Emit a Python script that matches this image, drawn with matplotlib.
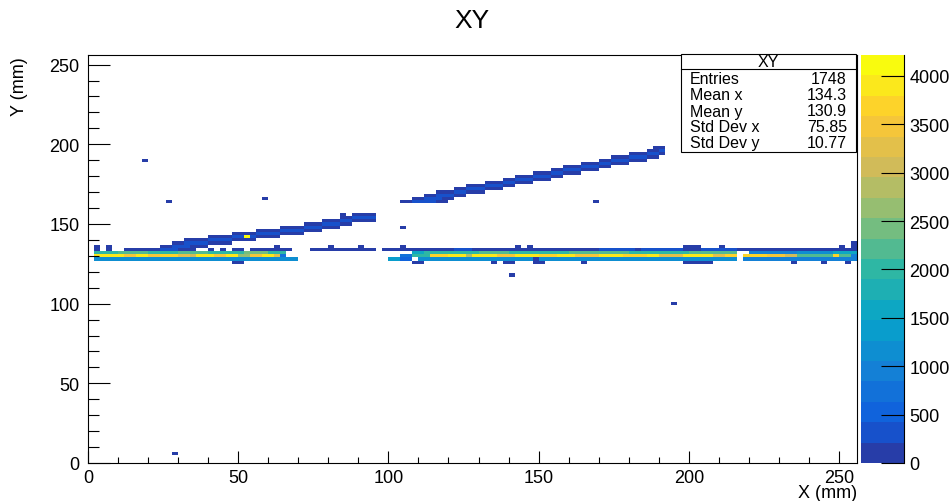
import numpy as np
import matplotlib
matplotlib.use("Agg")
import matplotlib.pyplot as plt
from matplotlib.colors import ListedColormap, BoundaryNorm
from matplotlib.patches import Rectangle
from matplotlib.lines import Line2D
from matplotlib.ticker import MultipleLocator

plt.rcParams['font.family'] = ['Liberation Sans', 'DejaVu Sans']

W, H = 953, 502

# binning of the 2D histogram (mm); y bins are centred on even values
x_edges = np.arange(0, 258, 2)
y_edges = np.arange(0, 258, 2) - 1
z_max = 4215

# runs of filled bins: (y row, x start, x end, content)
band_left = [
    (130, 2, 6, 3900), (130, 6, 12, 4000), (130, 12, 16, 3500), (130, 16, 20, 3800),
    (130, 20, 24, 3400), (130, 24, 30, 3700), (130, 30, 34, 3300), (130, 34, 36, 3000),
    (130, 36, 42, 3800), (130, 42, 46, 3500), (130, 46, 50, 3900), (130, 50, 54, 2700),
    (130, 54, 58, 3500), (130, 58, 62, 3800), (130, 62, 64, 3300), (130, 64, 66, 700),
    (132, 2, 10, 2100), (132, 10, 20, 2300), (132, 20, 30, 2000), (132, 30, 40, 2200),
    (132, 40, 52, 2100), (132, 52, 60, 2400), (132, 60, 66, 2000),
    (128, 2, 40, 1100), (128, 40, 50, 1200), (128, 50, 70, 1250),
    (126, 48, 52, 150),
]

band_right = [
    (130, 104, 108, 700), (130, 108, 114, 1900), (130, 114, 120, 3700), (130, 120, 126, 3900),
    (130, 126, 128, 2900), (130, 128, 136, 3800), (130, 136, 142, 3500), (130, 142, 150, 3900),
    (130, 150, 156, 3600), (130, 156, 162, 3900), (130, 162, 170, 3500), (130, 170, 178, 3800),
    (130, 178, 186, 3600), (130, 186, 190, 3900), (130, 190, 198, 3200), (130, 198, 208, 3800),
    (130, 208, 212, 3200), (130, 212, 216, 3700), (130, 218, 226, 3700), (130, 226, 232, 3400),
    (130, 232, 236, 3000), (130, 236, 248, 2300), (130, 248, 250, 3700), (130, 250, 254, 2300),
    (130, 254, 256, 900),
    (132, 108, 112, 1500), (132, 112, 130, 2100), (132, 130, 140, 2300), (132, 140, 160, 2000),
    (132, 160, 180, 2200), (132, 180, 200, 2000), (132, 200, 216, 2200), (132, 220, 236, 900),
    (132, 236, 248, 1200), (132, 248, 256, 1600),
    (128, 100, 104, 1300), (128, 104, 108, 600), (128, 110, 148, 1100), (128, 148, 150, 150),
    (128, 150, 216, 1100), (128, 218, 256, 1000),
    (126, 108, 112, 150), (126, 134, 136, 150), (126, 138, 142, 150), (126, 148, 152, 150),
    (126, 164, 166, 150), (126, 198, 208, 150), (126, 234, 236, 150), (126, 244, 246, 150),
    (126, 252, 254, 150),
]

dark_line = [
    (134, 2, 4, 150), (136, 2, 4, 150), (134, 6, 8, 150), (136, 6, 8, 150),
    (134, 12, 24, 120), (134, 24, 30, 420), (134, 30, 36, 150), (134, 40, 42, 120),
    (134, 44, 46, 120), (134, 48, 52, 150), (134, 54, 68, 130), (134, 74, 96, 120),
    (136, 90, 92, 120),
    (134, 98, 122, 130), (134, 122, 126, 300), (134, 126, 128, 400), (134, 128, 170, 140),
    (134, 170, 182, 380), (134, 182, 184, 150), (134, 184, 198, 380), (134, 198, 204, 150),
    (134, 204, 216, 380), (134, 216, 256, 200),
    (136, 104, 106, 150), (136, 142, 144, 150), (136, 146, 148, 150), (136, 198, 204, 150),
    (136, 210, 212, 150), (136, 250, 252, 150), (136, 254, 256, 150), (138, 254, 256, 150),
]

track_1 = [
    (136, 24, 28, 120), (136, 28, 34, 350), (136, 34, 40, 120),
    (138, 28, 32, 120), (138, 32, 40, 350), (138, 40, 48, 120),
    (140, 32, 40, 120), (140, 40, 48, 350), (140, 48, 56, 120),
    (142, 40, 48, 120), (142, 48, 52, 350), (142, 52, 54, 4200), (142, 54, 56, 350), (142, 56, 64, 120),
    (144, 48, 56, 120), (144, 56, 64, 350), (144, 64, 72, 120),
    (146, 56, 64, 120), (146, 64, 72, 350), (146, 72, 78, 120),
    (148, 64, 72, 120), (148, 72, 78, 350), (148, 78, 84, 120),
    (150, 72, 78, 120), (150, 78, 84, 350), (150, 84, 88, 120),
    (152, 78, 84, 120), (152, 84, 88, 350), (152, 88, 96, 120),
    (154, 84, 88, 120), (154, 88, 96, 350),
    (156, 84, 86, 120), (156, 88, 96, 120),
]

track_2 = [
    (164, 104, 108, 120), (164, 108, 116, 350), (164, 116, 120, 120),
    (166, 108, 112, 120), (166, 112, 118, 350), (166, 118, 122, 120),
    (168, 112, 116, 120), (168, 116, 122, 350), (168, 122, 126, 120),
    (170, 116, 122, 120), (170, 122, 126, 350), (170, 126, 132, 120),
    (172, 122, 126, 120), (172, 126, 132, 350), (172, 132, 138, 120),
    (174, 126, 132, 120), (174, 132, 138, 350), (174, 138, 142, 120),
    (176, 132, 138, 120), (176, 138, 142, 350), (176, 142, 148, 120),
    (178, 138, 142, 120), (178, 142, 148, 350), (178, 148, 154, 120),
    (180, 142, 148, 120), (180, 148, 154, 350), (180, 154, 158, 120),
    (182, 148, 154, 120), (182, 154, 158, 350), (182, 158, 164, 120),
    (184, 154, 158, 120), (184, 158, 164, 350), (184, 164, 170, 120),
    (186, 158, 164, 120), (186, 164, 170, 350), (186, 170, 174, 120),
    (188, 164, 170, 120), (188, 170, 174, 350), (188, 174, 180, 120),
    (190, 170, 174, 120), (190, 174, 180, 350), (190, 180, 186, 120),
    (192, 174, 180, 120), (192, 180, 186, 350), (192, 186, 190, 120),
    (194, 180, 186, 120), (194, 186, 190, 350), (194, 190, 192, 120),
    (196, 186, 190, 120), (196, 190, 192, 350),
    (198, 188, 192, 120),
]

# single bins: (x, y, content)
isolated = [
    (18, 190, 150), (26, 164, 150), (58, 166, 150), (104, 148, 150), (168, 164, 150),
    (194, 100, 150), (140, 118, 150), (28, 6, 150), (62, 136, 150), (80, 136, 150),
]

stats_labels = ["Entries", "Mean x", "Mean y", "Std Dev x", "Std Dev y"]
stats_values = ["1748", "134.3", "130.9", "75.85", "10.77"]
z_ticks = np.arange(0, 4001, 500)

# fill the histogram
counts = np.zeros((len(y_edges) - 1, len(x_edges) - 1))
for row, x0, x1, val in band_left + band_right + dark_line + track_1 + track_2:
    counts[row // 2, x0 // 2:x1 // 2] = val
for x, y, val in isolated:
    counts[y // 2, x // 2] = val
masked = np.ma.masked_equal(counts, 0)

# ROOT kBird palette, 20 contour levels
stops = [0.0, 0.125, 0.25, 0.375, 0.5, 0.625, 0.75, 0.875, 1.0]
red = [0.2082, 0.0592, 0.0780, 0.0232, 0.1802, 0.5301, 0.8186, 0.9956, 0.9764]
green = [0.1664, 0.3599, 0.5041, 0.6419, 0.7178, 0.7492, 0.7328, 0.7862, 0.9832]
blue = [0.5293, 0.8684, 0.8385, 0.7914, 0.6425, 0.4662, 0.3499, 0.1968, 0.0539]
ncont = 20
pos = np.array([int((i + 0.99) * 255 / ncont) for i in range(ncont)]) / 254
cols = np.column_stack([np.interp(pos, stops, red), np.interp(pos, stops, green),
                        np.interp(pos, stops, blue)])
cmap = ListedColormap(cols)
norm = BoundaryNorm(np.linspace(0, z_max, ncont + 1), ncont)


def fx(px):
    return px / W


def fy(py):
    return 1 - py / H


fig = plt.figure(figsize=(W / 100, H / 100), dpi=100)
ax = fig.add_axes([fx(88), fy(464), fx(857) - fx(88), fy(56) - fy(464)])
mesh = ax.pcolormesh(x_edges, y_edges, masked, cmap=cmap, norm=norm)
ax.set_xlim(0, 256)
ax.set_ylim(0, 256)

ax.xaxis.set_major_locator(MultipleLocator(50))
ax.xaxis.set_minor_locator(MultipleLocator(10))
ax.yaxis.set_major_locator(MultipleLocator(50))
ax.yaxis.set_minor_locator(MultipleLocator(10))
ax.tick_params(axis='x', which='major', direction='in', length=8.6, width=0.8,
               labelsize=13, pad=4)
ax.tick_params(axis='x', which='minor', direction='in', length=4.5, width=0.8)
ax.tick_params(axis='y', which='major', direction='in', length=16, width=0.8,
               labelsize=13, pad=6)
ax.tick_params(axis='y', which='minor', direction='in', length=8, width=0.8)
for s in ax.spines.values():
    s.set_linewidth(0.8)

# colour palette
cax = fig.add_axes([fx(861), fy(464), fx(904) - fx(861), fy(56) - fy(464)])
cbar = fig.colorbar(mesh, cax=cax, ticks=z_ticks)
cbar.outline.set_visible(False)
cax.plot([1, 1], [0, 1], transform=cax.transAxes, color='black', lw=0.8, clip_on=False)
cax.tick_params(direction='in', length=16.5, width=0.8, labelsize=13, pad=4)
cax.minorticks_off()

# titles
fig.text(fx(472), fy(21), "XY", ha='center', va='center', fontsize=19)
fig.text(fx(857), fy(494), "X (mm)", ha='right', va='center', fontsize=13)
fig.text(fx(20), fy(57), "Y (mm)", ha='center', va='top', rotation=90, fontsize=13)

# statistics box
fig.add_artist(Rectangle((fx(681), fy(153)), fx(856) - fx(681), fy(55) - fy(153),
                         transform=fig.transFigure, facecolor='white',
                         edgecolor='black', lw=0.8, zorder=5))
fig.add_artist(Line2D([fx(681), fx(856)], [fy(70), fy(70)], transform=fig.transFigure,
                      color='black', lw=0.8, zorder=6))
fig.text(fx(768), fy(62.5), "XY", ha='center', va='center', fontsize=11.5, zorder=7)
for i, (lab, val) in enumerate(zip(stats_labels, stats_values)):
    py = 80 + i * 16
    fig.text(fx(690), fy(py), lab, ha='left', va='center', fontsize=11.5, zorder=7)
    fig.text(fx(847), fy(py), val, ha='right', va='center', fontsize=11.5, zorder=7)

fig.savefig("out.png", dpi=100)
